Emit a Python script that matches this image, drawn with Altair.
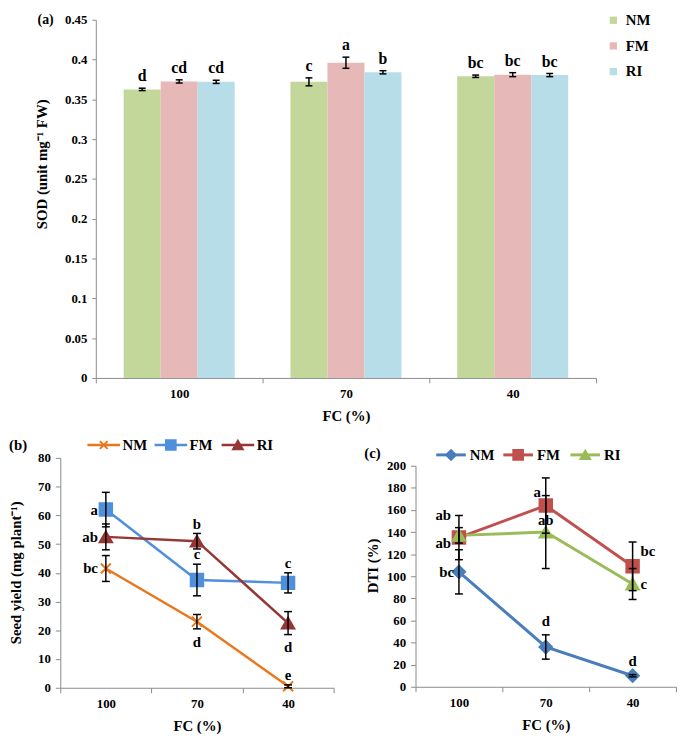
import altair as alt
import pandas as pd

FONT = "Liberation Serif"

fc_levels = ["100", "70", "40"]
treatments = ["NM", "FM", "RI"]

# ---------------- (a) SOD ----------------
sod_nm = [0.3625, 0.372, 0.379]
sod_fm = [0.3725, 0.396, 0.381]
sod_ri = [0.372, 0.384, 0.3805]
sod_err_nm = [0.0015, 0.005, 0.0015]
sod_err_fm = [0.002, 0.007, 0.0025]
sod_err_ri = [0.002, 0.002, 0.002]
sod_let_nm = ["d", "c", "bc"]
sod_let_fm = ["cd", "a", "bc"]
sod_let_ri = ["cd", "b", "bc"]
sod_ticks = [0, 0.05, 0.1, 0.15, 0.2, 0.25, 0.3, 0.35, 0.4, 0.45]
sod_colors = ["#C4D79B", "#E6B9B8", "#B7DEE8"]

# ---------------- (b) Seed yield ----------------
seed_nm = [41.5, 23.0, 0.5]
seed_fm = [62.0, 37.5, 36.5]
seed_ri = [52.5, 51.0, 22.5]
seed_err_nm = [4.5, 2.5, 0.5]
seed_err_fm = [6.0, 5.5, 3.5]
seed_err_ri = [4.5, 2.7, 4.0]
seed_let_nm = ["bc", "d", "e"]
seed_let_fm = ["a", "c", "c"]
seed_let_ri = ["ab", "b", "d"]
seed_pos_nm = ["left", "below", "above"]
seed_pos_fm = ["left", "above", "above"]
seed_pos_ri = ["left", "above", "below"]
seed_ticks = [0, 10, 20, 30, 40, 50, 60, 70, 80]
seed_colors = ["#E8771E", "#4F8FDB", "#953735"]

# ---------------- (c) DTI ----------------
dti_nm = [104, 36, 10]
dti_fm = [135, 164, 109]
dti_ri = [137, 140, 93]
dti_err_nm = [20, 11, 1]
dti_err_fm = [20, 25, 22]
dti_err_ri = [7, 33, 14]
dti_let_nm = ["bc", "d", "d"]
dti_let_fm = ["ab", "a", "bc"]
dti_let_ri = ["ab", "ab", "c"]
dti_pos_nm = ["left", "above", "above"]
dti_pos_fm = ["lefthi", "upleft", "righthi"]
dti_pos_ri = ["leftlo", "abovept", "right"]
dti_ticks = [0, 20, 40, 60, 80, 100, 120, 140, 160, 180, 200]
dti_colors = ["#4A7EBB", "#C0504D", "#9BBB59"]

X_PATH = "M-0.8,-0.8L0.8,0.8M-0.8,0.8L0.8,-0.8"


def build(means, errs, letters, places=None):
    rows = []
    for i, s in enumerate(treatments):
        for j, fc in enumerate(fc_levels):
            m, e = means[i][j], errs[i][j]
            rows.append({
                "fc": fc, "series": s, "val": m, "lo": m - e, "hi": m + e,
                "lab": letters[i][j],
                "pos": places[i][j] if places else "above",
            })
    return pd.DataFrame(rows)


def tag(text, x, y, size=14):
    return alt.Chart(pd.DataFrame({"t": [text]})).mark_text(
        align="left", baseline="middle", fontSize=size, color="black"
    ).encode(text="t:N", x=alt.value(x), y=alt.value(y))


# ======================= panel (a) =======================
# view starts 36px left of the y axis so the lower row can sit further left
A_SHIFT = 36
A_W = 543
A_H = 363

df_a = build([sod_nm, sod_fm, sod_ri], [sod_err_nm, sod_err_fm, sod_err_ri],
             [sod_let_nm, sod_let_fm, sod_let_ri])

x_axis_a = alt.Axis(title="FC (%)", labelAngle=0, tickBand="extent", labelFontSize=13,
                    titleFontSize=15, tickSize=5, labelPadding=5, titlePadding=8)
y_axis_a = alt.Axis(title="SOD (unit mg⁻¹ FW)", values=sod_ticks, format=".2~f",
                    labelFontSize=13, titleFontSize=15, tickSize=4, labelPadding=5,
                    offset=-A_SHIFT, titleX=-55, titleY=146, titleBaseline="middle")


def xa():
    return alt.X("fc:N", sort=fc_levels,
                 scale=alt.Scale(paddingInner=0, paddingOuter=0, range=[A_SHIFT, A_W]),
                 axis=x_axis_a)


def xo():
    return alt.XOffset("series:N", sort=treatments,
                       scale=alt.Scale(paddingInner=0, paddingOuter=0.753))


def ya(f):
    return alt.Y(f + ":Q", scale=alt.Scale(domain=[0, 0.45], nice=False), axis=y_axis_a)


color_a = alt.Color("series:N", sort=treatments,
                    scale=alt.Scale(domain=treatments, range=sod_colors),
                    legend=alt.Legend(title=None, orient="none", legendX=517 + A_SHIFT,
                                      legendY=-7, symbolType="square", symbolSize=55,
                                      symbolStrokeWidth=0, labelFontSize=15, rowPadding=10,
                                      labelOffset=5, padding=0))

base_a = alt.Chart(df_a)
bars_a = base_a.mark_bar().encode(x=xa(), xOffset=xo(), y=ya("val"), color=color_a)
err_a = base_a.mark_rule(color="black", strokeWidth=1.5).encode(
    x=xa(), xOffset=xo(), y=ya("lo"), y2="hi:Q")
caplo_a = base_a.mark_tick(color="black", size=7, thickness=1.5, orient="horizontal",
                           opacity=1).encode(x=xa(), xOffset=xo(), y=ya("lo"))
caphi_a = base_a.mark_tick(color="black", size=7, thickness=1.5, orient="horizontal",
                           opacity=1).encode(x=xa(), xOffset=xo(), y=ya("hi"))
let_a = base_a.mark_text(baseline="bottom", dy=-4, fontSize=16, color="black").encode(
    x=xa(), xOffset=xo(), y=ya("hi"), text="lab:N")

panel_a = alt.layer(
    bars_a, err_a, caplo_a, caphi_a, let_a, tag("(a)", -23, 0),
).properties(width=A_W, height=A_H)


# ======================= line panels =======================
def line_panel(df, colors, shapes, y_title, y_dom, y_ticks, width, height, y_top,
               title_x, title_y, placements, leg_range, leg_y, leg_dx, leg_len,
               tag_text, tag_y, line_w, pt_size):
    x_axis = alt.Axis(title="FC (%)", labelAngle=0, tickBand="extent", labelFontSize=13,
                      titleFontSize=15, tickSize=5, labelPadding=5, titlePadding=8)
    y_axis = alt.Axis(title=y_title, values=y_ticks, labelFontSize=13, titleFontSize=15,
                      tickSize=5, labelPadding=5, titleX=title_x, titleY=title_y,
                      titleBaseline="middle")

    def xe():
        return alt.X("fc:N", sort=fc_levels,
                     scale=alt.Scale(paddingInner=0, paddingOuter=0), axis=x_axis)

    def ye(f):
        return alt.Y(f + ":Q", scale=alt.Scale(domain=y_dom, nice=False,
                                               range=[height, y_top]), axis=y_axis)

    cscale = alt.Scale(domain=treatments, range=colors)
    sscale = alt.Scale(domain=treatments, range=shapes)
    col = alt.Color("series:N", sort=treatments, scale=cscale, legend=None)
    stk = alt.Stroke("series:N", sort=treatments, scale=cscale, legend=None)
    shp = alt.Shape("series:N", sort=treatments, scale=sscale, legend=None)

    base = alt.Chart(df)
    lines = base.mark_line(strokeWidth=line_w).encode(x=xe(), y=ye("val"), color=col,
                                                       detail="series:N")
    pts = base.mark_point(filled=True, opacity=1, size=pt_size, strokeWidth=2).encode(
        x=xe(), y=ye("val"), color=col, stroke=stk, shape=shp)
    err = base.mark_rule(color="black", strokeWidth=1.5).encode(x=xe(), y=ye("lo"), y2="hi:Q")
    caplo = base.mark_tick(color="black", size=8, thickness=1.5, orient="horizontal",
                           opacity=1).encode(x=xe(), y=ye("lo"))
    caphi = base.mark_tick(color="black", size=8, thickness=1.5, orient="horizontal",
                           opacity=1).encode(x=xe(), y=ye("hi"))
    layers = [lines, pts, err, caplo, caphi]
    for name, (yf, align, bl, dx, dy) in placements.items():
        layers.append(
            base.transform_filter(alt.datum.pos == name).mark_text(
                align=align, baseline=bl, dx=dx, dy=dy, fontSize=15, color="black"
            ).encode(x=xe(), y=ye(yf), text="lab:N")
        )
    layers.append(tag(tag_text, -52, tag_y, size=15))
    main = alt.layer(*layers)

    # legend row (line + marker + label), positioned by its own point scale
    ldf = pd.DataFrame({"series": treatments})
    lx = alt.X("series:N", sort=treatments, axis=None,
               scale=alt.Scale(type="point", range=leg_range, padding=0))
    lbase = alt.Chart(ldf)
    lline = lbase.mark_tick(orient="horizontal", size=leg_len, thickness=line_w,
                            opacity=1).encode(x=lx, y=alt.value(leg_y), color=col)
    lpt = lbase.mark_point(filled=True, opacity=1, size=pt_size * 0.6, strokeWidth=2).encode(
        x=lx, y=alt.value(leg_y), color=col, stroke=stk, shape=shp)
    ltxt = lbase.mark_text(align="left", baseline="middle", dx=leg_dx, fontSize=15,
                           color="black").encode(x=lx, y=alt.value(leg_y), text="series:N")
    legend = alt.layer(lline, lpt, ltxt)

    return alt.layer(main, legend).resolve_scale(x="independent").properties(
        width=width, height=height)


df_b = build([seed_nm, seed_fm, seed_ri], [seed_err_nm, seed_err_fm, seed_err_ri],
             [seed_let_nm, seed_let_fm, seed_let_ri], [seed_pos_nm, seed_pos_fm, seed_pos_ri])
df_c = build([dti_nm, dti_fm, dti_ri], [dti_err_nm, dti_err_fm, dti_err_ri],
             [dti_let_nm, dti_let_fm, dti_let_ri], [dti_pos_nm, dti_pos_fm, dti_pos_ri])

place_b = {
    "left": ("val", "right", "middle", -8, 0),
    "above": ("hi", "center", "bottom", 0, -2),
    "below": ("lo", "center", "top", 0, 6),
}
place_c = {
    "left": ("val", "right", "middle", -5, 0),
    "lefthi": ("hi", "right", "middle", -8, 0),
    "leftlo": ("lo", "right", "middle", -8, 0),
    "above": ("hi", "center", "bottom", 0, -6),
    "upleft": ("val", "right", "bottom", -5, -6),
    "abovept": ("val", "center", "bottom", 0, -4),
    "right": ("val", "left", "middle", 8, 0),
    "righthi": ("hi", "left", "top", 8, 2),
}

panel_b = line_panel(df_b, seed_colors, [X_PATH, "square", "triangle-up"],
                     "Seed yield (mg plant⁻¹)", [0, 80], seed_ticks, 277, 233, 0, -45, 116,
                     place_b, [44, 180], -13, 19, 33, "(b)", -13, 2.5, 160)
panel_c = line_panel(df_c, dti_colors, ["diamond", "square", "triangle-up"],
                     "DTI (%)", [0, 200], dti_ticks, 264, 232, 8, -44, 109,
                     place_c, [36, 172], -3, 19, 30, "(c)", -5, 3, 160)

indep = dict(color="independent", stroke="independent", shape="independent")

row = alt.hconcat(panel_b, panel_c, spacing=30).resolve_scale(**indep)

chart = alt.vconcat(panel_a, row, spacing=13).resolve_scale(
    **indep
).properties(
    padding={"left": 0, "top": 0, "right": 0, "bottom": 0}
).configure_view(stroke=None).configure_axis(
    grid=False, domainColor="#8a8a8a", tickColor="#8a8a8a", labelFont=FONT, titleFont=FONT,
    labelFontWeight="bold", titleFontWeight="bold", labelColor="black", titleColor="black"
).configure_text(font=FONT, fontWeight="bold").configure_legend(
    labelFont=FONT, labelFontWeight="bold", labelColor="black"
)

chart.save("out.html", embed_options={"renderer": "svg", "actions": False})
